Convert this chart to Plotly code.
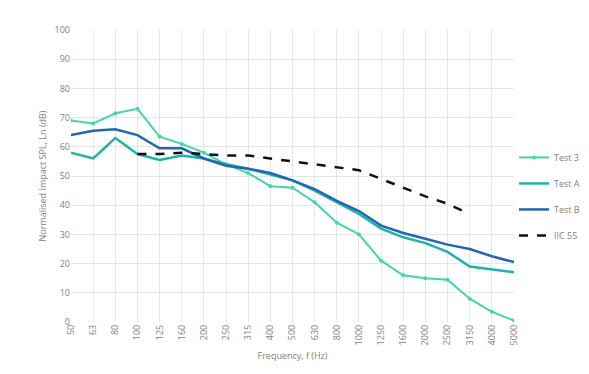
import plotly.graph_objects as go

# ── Data ──────────────────────────────────────────────────────────────────────
freqs = ["50", "63", "80", "100", "125", "160", "200", "250", "315", "400",
         "500", "630", "800", "1000", "1250", "1600", "2000", "2500", "3150",
         "4000", "5000"]

test_3 = [69, 68, 71.5, 73, 63.5, 61, 58, 54, 51, 46.5, 46, 41, 34, 30,
          21, 16, 15, 14.5, 8, 3.5, 0.5]
test_a = [58, 56, 63, 57.5, 55.5, 57, 56, 54, 52.5, 50.5, 48.5, 45, 41, 37,
          32, 29, 27, 24, 19, 18, 17]
test_b = [64, 65.5, 66, 64, 59.5, 59.5, 56, 53.5, 52.5, 51, 48.5, 45.5, 41.5,
          38, 33, 30.5, 28.5, 26.5, 25, 22.5, 20.5]
iic_freqs = freqs[3:19]
iic_55 = [57.5, 57.5, 58, 57.5, 57, 57, 56, 55, 54, 53, 52, 49, 46, 43, 40.5, 37]

# ── Style ─────────────────────────────────────────────────────────────────────
FONT = "Open Sans, Liberation Sans, sans-serif"
MUTED = "#7f7f7f"
GRID = "#e6e6e6"

fig = go.Figure()
fig.add_trace(go.Scatter(
    x=freqs, y=test_3, name="Test 3", mode="lines+markers", legendgroup="t3",
    line=dict(color="#45d6a6", width=2),
    marker=dict(size=4, color="#45d6a6"),
))
fig.add_trace(go.Scatter(
    x=freqs, y=test_a, name="Test A", mode="lines", legendgroup="ta",
    line=dict(color="#1eb3aa", width=2.5),
))
fig.add_trace(go.Scatter(
    x=freqs, y=test_b, name="Test B", mode="lines", legendgroup="tb",
    line=dict(color="#2366b4", width=2.5),
))
fig.add_trace(go.Scatter(
    x=iic_freqs, y=iic_55, name="IIC 55", mode="lines", legendgroup="iic",
    line=dict(color="#111111", width=2.5, dash="dash"),
))

fig.update_layout(
    width=589, height=374,
    paper_bgcolor="#ffffff", plot_bgcolor="#ffffff",
    font=dict(family=FONT, size=9, color=MUTED),
    margin=dict(l=63, r=80, t=22, b=60),
    legend=dict(
        x=1.0, xanchor="left", y=0.43, yanchor="middle",
        font=dict(size=9, color=MUTED),
        tracegroupgap=7, itemwidth=30,
        bgcolor="rgba(0,0,0,0)",
    ),
)
fig.update_xaxes(
    type="category", range=[0, len(freqs) - 1],
    tickangle=-90, showgrid=True, gridcolor=GRID, gridwidth=1,
    showline=False, zeroline=False, ticks="",
    tickfont=dict(size=9, color=MUTED),
    title=dict(text="Frequency, f (Hz)", font=dict(size=9, color=MUTED), standoff=8),
)
fig.update_yaxes(
    range=[0, 100], dtick=10, showgrid=True, gridcolor=GRID, gridwidth=1,
    showline=False, zeroline=False, ticks="",
    tickfont=dict(size=9, color=MUTED),
    title=dict(text="Normalised Impact SPL, Ln (dB)", font=dict(size=9, color=MUTED), standoff=6),
)

fig.write_html("out.html")
